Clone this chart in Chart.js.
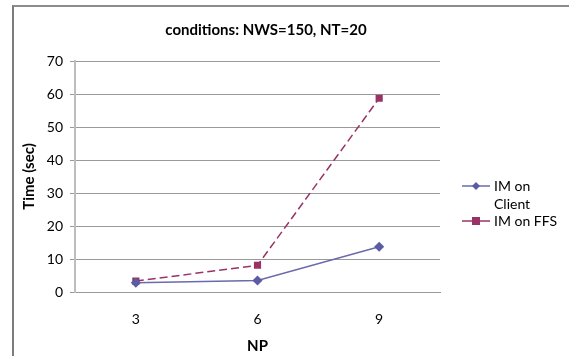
<!DOCTYPE html>
<html><head><meta charset="utf-8">
<script src="https://cdn.jsdelivr.net/npm/chart.js@4"></script>
<style>
html,body{margin:0;padding:0;background:#fff;}
#wrap{position:relative;width:569px;height:356px;}
#frame{position:absolute;left:12px;top:5px;width:557px;height:351px;border-top:2px solid #8c8c8c;border-left:2px solid #7c7c7c;box-sizing:border-box;pointer-events:none;}
canvas{position:absolute;left:0;top:0;}
</style></head>
<body><div id="wrap"><canvas id="c" width="569" height="356"></canvas><div id="frame"></div></div>
<script>
const categories = ['3', '6', '9'];
const seriesNames = ['IM on Client', 'IM on FFS'];
const legendLines = [['IM on', 'Client'], ['IM on FFS']];
const clientValues = [2.8, 3.5, 13.7];
const ffsValues = [3.3, 8.1, 58.7];
const yTicks = [0, 10, 20, 30, 40, 50, 60, 70];
const titleText = 'conditions: NWS=150, NT=20';
const xTitle = 'NP';
const yTitle = 'Time (sec)';

const FONT = "Lato, 'Open Sans', sans-serif";
const C1 = '#6a6aae', C2 = '#993366';

const titlePlugin = {
  id: 'titleP',
  afterDraw(chart) {
    const ctx = chart.ctx;
    ctx.save();
    ctx.font = 'bold 15px ' + FONT;
    ctx.fillStyle = '#000';
    ctx.textAlign = 'center';
    ctx.textBaseline = 'middle';
    ctx.fillText(titleText, 266, 30);
    ctx.restore();
  }
};
const legendPlugin = {
  id: 'legendP',
  afterDraw(chart) {
    const ctx = chart.ctx;
    ctx.save();
    ctx.font = '14px ' + FONT;
    ctx.textBaseline = 'middle';
    ctx.fillStyle = '#000';
    const ys = [186, 221];
    chart.data.datasets.forEach((ds, i) => {
      const y = ys[i];
      ctx.strokeStyle = ds.borderColor;
      ctx.lineWidth = 1.5;
      ctx.beginPath(); ctx.moveTo(462, y); ctx.lineTo(490, y); ctx.stroke();
      ctx.fillStyle = ds.pointBackgroundColor;
      if (i === 0) {
        ctx.beginPath(); ctx.moveTo(476, y - 4); ctx.lineTo(480, y); ctx.lineTo(476, y + 4); ctx.lineTo(472, y); ctx.closePath(); ctx.fill();
      } else {
        ctx.fillRect(472, y - 4, 8, 8);
      }
      ctx.fillStyle = '#000';
      legendLines[i].forEach((t, k) => ctx.fillText(t, 494, y + k * 18));
    });
    ctx.restore();
  }
};

new Chart(document.getElementById('c'), {
  type: 'line',
  data: {
    labels: categories,
    datasets: [
      { label: seriesNames[0], data: clientValues, borderColor: C1, backgroundColor: C1,
        pointBackgroundColor: '#5c5ca4', pointBorderColor: '#5c5ca4', borderWidth: 1.5,
        pointStyle: 'rectRot', pointRadius: 4, tension: 0 },
      { label: seriesNames[1], data: ffsValues, borderColor: C2, backgroundColor: C2,
        pointBackgroundColor: C2, pointBorderColor: C2, borderWidth: 1.5, borderDash: [8, 4],
        pointStyle: 'rect', pointRadius: 4, tension: 0 }
    ]
  },
  options: {
    responsive: false,
    animation: false,
    devicePixelRatio: 1,
    layout: { padding: { left: 0, top: 61, right: 129, bottom: 0 } },
    plugins: { legend: { display: false }, tooltip: { enabled: false }, title: { display: false } },
    scales: {
      x: {
        offset: true,
        grid: { display: false, drawTicks: false },
        border: { color: '#999', width: 1 },
        ticks: { padding: 19, color: '#000', font: { family: FONT, size: 14 } },
        title: { display: true, text: xTitle, color: '#000', font: { family: FONT, size: 15, weight: 'bold' }, padding: { top: 0, bottom: 1 } },
        afterFit(s) { s.height = 64; }
      },
      y: {
        min: 0, max: 70,
        afterBuildTicks(s) { s.ticks = yTicks.map(v => ({ value: v })); },
        grid: { color: '#9a9a9a', lineWidth: 1, tickLength: 5, drawTicks: true },
        border: { color: '#bdbdbd', width: 2 },
        ticks: { padding: 7, color: '#000', font: { family: FONT, size: 14 } },
        title: { display: true, text: yTitle, color: '#000', font: { family: FONT, size: 15, weight: 'bold' }, padding: { top: 20, bottom: 0 } },
        afterFit(s) { s.width = 75; }
      }
    }
  },
  plugins: [titlePlugin, legendPlugin]
});
</script></body></html>
